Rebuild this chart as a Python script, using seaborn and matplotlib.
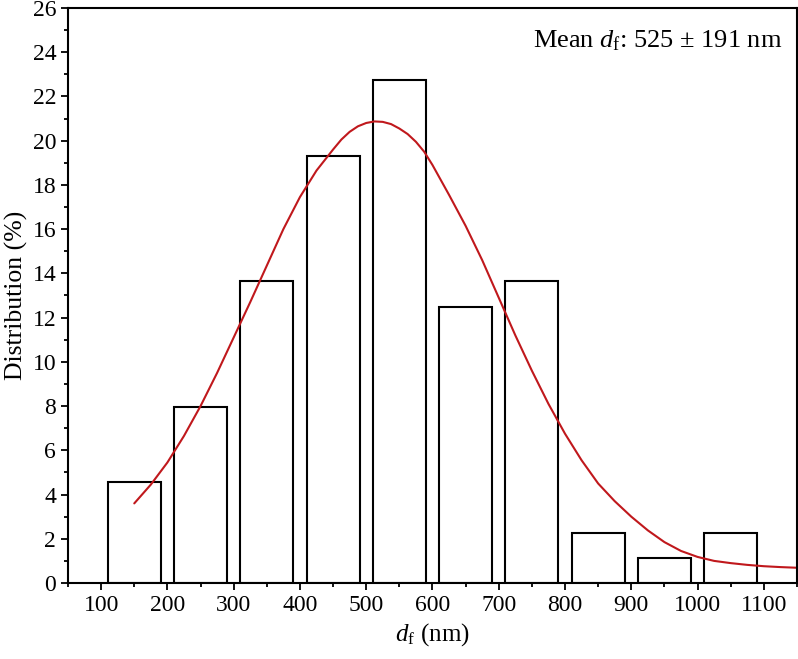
#%% IMPORTS ~~~~~~~~~~~~~~~~~~~~~~~~~~~~~~~~~~~~~~~~~~~~
import matplotlib
matplotlib.use("Agg")
import matplotlib.pyplot as plt
from matplotlib.ticker import MultipleLocator
import pandas as pd
import seaborn as sns

#%% DATA ~~~~~~~~~~~~~~~~~~~~~~~~~~~~~~~~~~~~~~~~~~~~
# histogram bins (bin centres in nm) and distribution (%)
bin_centers = [150, 250, 350, 450, 550, 650, 750, 850, 950, 1050]
dist_pct = [4.55, 7.95, 13.64, 19.32, 22.73, 12.50, 13.64, 2.27, 1.14, 2.27]

# fitted curve
fit_x = [150, 175, 200, 225, 250, 275, 300, 325, 350, 375, 400, 425, 450,
         462.5, 475, 487.5, 500, 512.5, 525, 537.5, 550, 562.5, 575, 587.5,
         600, 625, 650, 675, 700, 725, 750, 775, 800, 825, 850, 875, 900,
         925, 950, 975, 1000, 1025, 1050, 1075, 1100, 1125, 1150]
fit_y = [3.6, 4.45, 5.45, 6.65, 8.0, 9.5, 11.1, 12.7, 14.35, 16.0, 17.45,
         18.65, 19.6, 20.05, 20.4, 20.65, 20.8, 20.87, 20.85, 20.75, 20.55,
         20.3, 19.95, 19.5, 18.9, 17.55, 16.15, 14.6, 12.9, 11.2, 9.6, 8.1,
         6.75, 5.55, 4.5, 3.7, 3.0, 2.38, 1.85, 1.45, 1.18, 1.0, 0.9, 0.82,
         0.76, 0.72, 0.69]

#%% STYLE ~~~~~~~~~~~~~~~~~~~~~~~~~~~~~~~~~~~~~~~~~~~~
sns.set_style("ticks")
plt.rcParams['font.family'] = ['Liberation Serif', 'DejaVu Serif']
plt.rcParams['mathtext.fontset'] = 'custom'
plt.rcParams['mathtext.rm'] = 'Liberation Serif'
plt.rcParams['mathtext.it'] = 'Liberation Serif:italic'
plt.rcParams['text.color'] = 'black'
plt.rcParams['axes.labelcolor'] = 'black'
plt.rcParams['xtick.color'] = 'black'
plt.rcParams['ytick.color'] = 'black'
plt.rcParams['axes.edgecolor'] = 'black'

#%% PLOT ~~~~~~~~~~~~~~~~~~~~~~~~~~~~~~~~~~~~~~~~~~~~
fig = plt.figure(figsize=(7.98, 6.59), dpi=100)
ax = fig.add_axes([0.0852, 0.1153, 0.9135, 0.8726])

bars = pd.DataFrame({"d": bin_centers, "pct": dist_pct})
sns.barplot(data=bars, x="d", y="pct", native_scale=True, width=0.8,
            color="white", edgecolor="black", linewidth=1.5, ax=ax)

fit = pd.DataFrame({"d": fit_x, "y": fit_y})
sns.lineplot(data=fit, x="d", y="y", color="#c0181c", linewidth=1.5, ax=ax)

ax.set_xlim(50, 1150)
ax.set_ylim(0, 26)
ax.xaxis.set_major_locator(MultipleLocator(100))
ax.xaxis.set_minor_locator(MultipleLocator(50))
ax.yaxis.set_major_locator(MultipleLocator(2))
ax.yaxis.set_minor_locator(MultipleLocator(1))
ax.set_xticks(range(100, 1101, 100))
ax.tick_params(which='major', direction='out', length=5, width=1.3,
               labelsize=17, top=False, right=False)
ax.tick_params(which='minor', direction='out', length=3, width=1.3,
               top=False, right=False)
for sp in ax.spines.values():
    sp.set_visible(True)
    sp.set_linewidth(1.5)

ax.set_xlabel(r"$d_{\mathrm{f}}$ (nm)", fontsize=18, labelpad=4)
ax.set_ylabel("Distribution (%)", fontsize=18.5, labelpad=3)

ax.text(0.98, 0.965, r"Mean $d_{\mathrm{f}}$: 525 $\pm$ 191 nm",
        transform=ax.transAxes, ha='right', va='top', fontsize=19)

fig.savefig("out.png", dpi=100)
